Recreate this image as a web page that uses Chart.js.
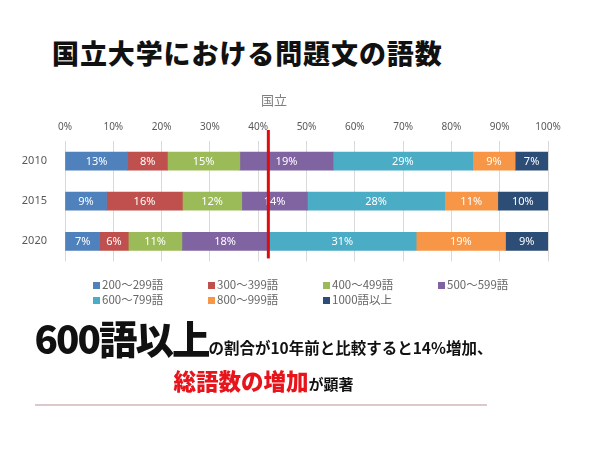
<!DOCTYPE html>
<html>
<head>
<meta charset="utf-8">
<script src="https://cdn.jsdelivr.net/npm/chart.js@4"></script>
<style>
body { margin: 0; width: 600px; height: 450px; background: #fff; position: relative; overflow: hidden; font-family: "Noto Sans CJK JP", sans-serif; }
#title { position: absolute; left: 52px; top: 39px; font-size: 27px; font-weight: 900; line-height: 1; color: #111; letter-spacing: 0.9px; }
#chartBox { position: absolute; left: 0; top: 88px; width: 600px; height: 190px; }
.legend-item { position: absolute; font-size: 11.5px; color: #666; line-height: 14px; white-space: nowrap; }
.legend-item i { display: inline-block; width: 7px; height: 7px; margin-right: 2px; vertical-align: 0px; }
#msg1 { position: absolute; left: 0; width: 527px; top: 318px; text-align: center; white-space: nowrap; font-weight: 900; color: #111; line-height: 1; }
#msg1 .big { font-size: 38.5px; letter-spacing: -2px; }
#msg1 .mid { font-size: 15.5px; font-weight: 700; }
#msg2 { position: absolute; left: 0; width: 527px; top: 369px; text-align: center; white-space: nowrap; line-height: 1; }
#msg2 .red { font-size: 22.5px; font-weight: 900; color: #e8141b; }
#msg2 .small { font-size: 15px; font-weight: 700; color: #111; }
#rule { position: absolute; left: 35px; top: 404px; width: 452px; height: 2px; background: #dcc8c8; }
</style>
</head>
<body>
<div id="title">国立大学における問題文の語数</div>
<div id="chartBox"><canvas id="chart"></canvas></div>
<div id="legend"></div>
<div id="msg1"><span class="big">600語以上</span><span class="mid">の割合が10年前と比較すると14%増加、</span></div>
<div id="msg2"><span class="red">総語数の増加</span><span class="small">が顕著</span></div>
<div id="rule"></div>
<script>
const years = ["2010", "2015", "2020"];
const bandNames = ["200～299語", "300～399語", "400～499語", "500～599語", "600～799語", "800～999語", "1000語以上"];

// share of each word-count band per year (%)
const band200 = [13.0, 8.6, 7.2];
const band300 = [8.2, 15.7, 5.9];
const band400 = [15.0, 12.3, 11.1];
const band500 = [19.3, 13.6, 17.9];
const band600 = [28.9, 28.4, 30.6];
const band800 = [8.8, 11.0, 18.5];
const band1000 = [6.8, 10.4, 8.8];

const bandValues = [band200, band300, band400, band500, band600, band800, band1000];
const bandColors = ["#4f81bd", "#c0504d", "#9bbb59", "#8064a2", "#4bacc6", "#f79646", "#2c4d75"];

// red line: where 600+ words starts in 2020
const cutYear = 2;
const cutValue = band200[cutYear] + band300[cutYear] + band400[cutYear] + band500[cutYear];

const barLabels = {
    id: "barLabels",
    afterDatasetsDraw(chart) {
        const ctx = chart.ctx;
        ctx.save();
        ctx.fillStyle = "#fff";
        ctx.font = "11px 'Noto Sans', sans-serif";
        ctx.textAlign = "center";
        ctx.textBaseline = "middle";
        chart.data.datasets.forEach((ds, i) => {
            chart.getDatasetMeta(i).data.forEach((bar, j) => {
                const p = bar.getProps(["x", "y", "base"], true);
                ctx.fillText(Math.round(ds.data[j]) + "%", (p.x + p.base) / 2, p.y + 1);
            });
        });
        ctx.restore();
    }
};

const cutLine = {
    id: "cutLine",
    afterDraw(chart) {
        const ctx = chart.ctx;
        const x = chart.scales.x.getPixelForValue(cutValue);
        const area = chart.chartArea;
        ctx.save();
        ctx.strokeStyle = "#e00b0b";
        ctx.lineWidth = 3;
        ctx.beginPath();
        ctx.moveTo(x, area.top - 11);
        ctx.lineTo(x, area.bottom - 3);
        ctx.stroke();
        ctx.restore();
    }
};

new Chart(document.getElementById("chart"), {
    type: "bar",
    data: {
        labels: years,
        datasets: bandNames.map((name, i) => ({
            label: name,
            data: bandValues[i],
            backgroundColor: bandColors[i],
            barThickness: 18
        }))
    },
    options: {
        indexAxis: "y",
        responsive: true,
        maintainAspectRatio: false,
        animation: false,
        layout: { padding: { left: 0, right: 52, top: 0, bottom: 5 } },
        plugins: {
            legend: { display: false },
            tooltip: { enabled: false },
            title: {
                display: true,
                text: "国立",
                color: "#7f7f7f",
                font: { family: "'Noto Sans CJK JP'", size: 13, weight: "normal", lineHeight: 1.2 },
                padding: { top: 4, bottom: 6 }
            }
        },
        scales: {
            x: {
                stacked: true,
                position: "top",
                min: 0,
                max: 100,
                ticks: {
                    stepSize: 10,
                    padding: 8,
                    color: "#595959",
                    font: { family: "'Noto Sans'", size: 10 },
                    callback: v => v + "%"
                },
                grid: { color: "#d9d9d9", drawTicks: false },
                border: { display: false },
                afterFit(scale) { scale.height = 27.4; }
            },
            y: {
                stacked: true,
                ticks: {
                    padding: 10,
                    color: "#595959",
                    font: { family: "'Noto Sans'", size: 11 }
                },
                grid: { display: false },
                border: { display: false },
                afterFit(scale) { scale.width = 65; }
            }
        }
    },
    plugins: [barLabels, cutLine]
});

// legend in four columns like the original
const legend = document.getElementById("legend");
bandNames.forEach((name, i) => {
    const item = document.createElement("div");
    item.className = "legend-item";
    item.style.left = (93 + (i % 4) * 115) + "px";
    item.style.top = (277 + Math.floor(i / 4) * 15) + "px";
    item.innerHTML = '<i style="background:' + bandColors[i] + '"></i>' + name;
    legend.appendChild(item);
});
</script>
</body>
</html>
